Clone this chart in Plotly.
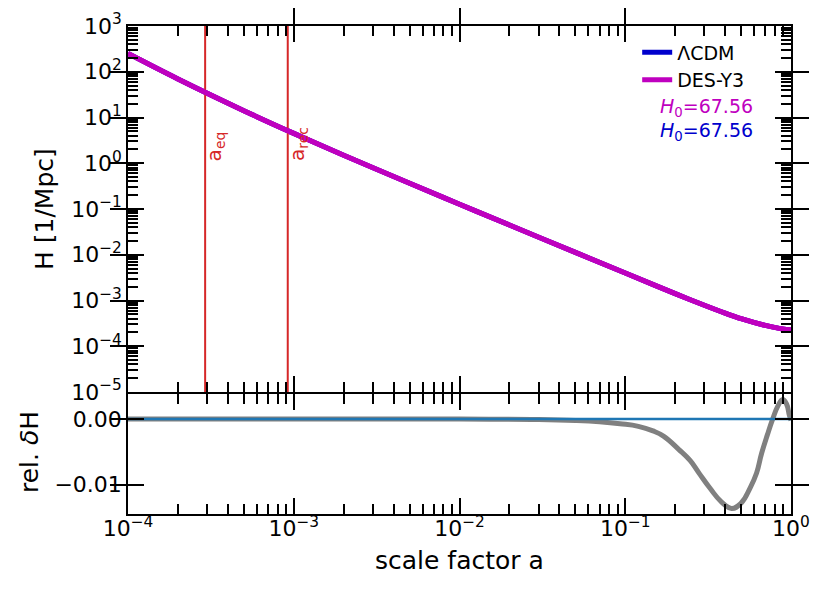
import numpy as np
import plotly.graph_objects as go

# ---- data ----
a_H = [1e-4, 2e-4, 5e-4, 1e-3, 2e-3, 5e-3, 1e-2, 2e-2, 5e-2, 0.1, 0.15, 0.2, 0.3, 0.4, 0.5, 0.7, 0.85, 1.0]
H_lcdm = [250, 69.5, 14.1, 4.5, 1.50, 0.365, 0.127, 0.0447, 0.01125, 3.98e-3, 2.17e-3, 1.415e-3,
          7.86e-4, 5.3e-4, 4.01e-4, 2.85e-4, 2.46e-4, 2.25e-4]
H_des = [250, 69.5, 14.1, 4.5, 1.50, 0.365, 0.127, 0.0447, 0.01125, 3.98e-3, 2.17e-3, 1.415e-3,
         7.86e-4, 5.3e-4, 4.01e-4, 2.85e-4, 2.46e-4, 2.25e-4]

a_rel = [1e-4, 1e-3, 1e-2, 0.03, 0.05, 0.07, 0.093, 0.12, 0.147, 0.17, 0.21, 0.246, 0.28, 0.324,
         0.38, 0.438, 0.50, 0.566, 0.62, 0.665, 0.72, 0.775, 0.83, 0.891, 0.94, 0.977, 1.0]
dH_rel = [0.0, 0.0, 0.0, -0.00005, -0.0002, -0.0004, -0.0007, -0.0011, -0.0018, -0.0026, -0.0046, -0.0063,
          -0.0083, -0.0105, -0.0126, -0.0136, -0.0128, -0.0105, -0.0082, -0.0052, -0.0024, 0.0, 0.0019,
          0.0030, 0.0023, 0.0006, -0.0002]
zero_ref = [0.0, 0.0]
a_ref = [1e-4, 1.0]

a_eq = 2.92e-4
a_rec = 9.2e-4

H0_des = 67.56
H0_lcdm = 67.56

x_ticks = [1e-4, 1e-3, 1e-2, 1e-1, 1e0]
x_ticktext = ["10<sup>\u22124</sup>", "10<sup>\u22123</sup>", "10<sup>\u22122</sup>", "10<sup>\u22121</sup>", "10<sup>0</sup>"]
y_ticks = [10.0 ** k for k in range(-5, 4)]
y_ticktext = ["10<sup>" + (("\u2212" + str(-k)) if k < 0 else str(k)) + "</sup>" for k in range(-5, 4)]
rel_ticks = [0.0, -0.01]
rel_ticktext = ["0.00", "\u22120.01"]

x_minor = [m * 10.0 ** e for e in range(-4, 0) for m in range(2, 10)]
y_minor = [m * 10.0 ** e for e in range(-5, 3) for m in range(2, 10)]

FONT = "DejaVu Sans"
MAGENTA = "#bf00bf"
BLUE = "#0000cd"
RED = "#d62728"

fig = go.Figure()

# top panel (x2, y2)
fig.add_trace(go.Scatter(x=a_H, y=H_lcdm, mode="lines", line=dict(color=BLUE, width=5, shape="spline"),
                         name="\u039bCDM", xaxis="x2", yaxis="y2"))
fig.add_trace(go.Scatter(x=a_H, y=H_des, mode="lines", line=dict(color=MAGENTA, width=5, shape="spline"),
                         name="DES-Y3", xaxis="x2", yaxis="y2"))
for av in (a_eq, a_rec):
    fig.add_trace(go.Scatter(x=[av, av], y=[1e-5, 1e3], mode="lines", line=dict(color=RED, width=2),
                             showlegend=False, xaxis="x2", yaxis="y2"))
fig.add_trace(go.Scatter(x=a_H, y=H_des, mode="lines", line=dict(color=MAGENTA, width=5, shape="spline"),
                         showlegend=False, xaxis="x2", yaxis="y2"))

# bottom panel (x, y)
fig.add_trace(go.Scatter(x=a_rel, y=dH_rel, mode="lines",
                         line=dict(color="gray", width=5, shape="spline", smoothing=1.3),
                         showlegend=False, xaxis="x", yaxis="y"))
fig.add_trace(go.Scatter(x=a_ref, y=zero_ref, mode="lines", line=dict(color="#1f77b4", width=2.5),
                         showlegend=False, xaxis="x", yaxis="y"))

# empty helper traces so the minor-tick overlay axes exist
fig.add_trace(go.Scatter(x=[], y=[], showlegend=False, xaxis="x3", yaxis="y"))
fig.add_trace(go.Scatter(x=[], y=[], showlegend=False, xaxis="x4", yaxis="y2"))
fig.add_trace(go.Scatter(x=[], y=[], showlegend=False, xaxis="x2", yaxis="y3"))

axis_common = dict(showline=True, linecolor="black", linewidth=1.5, mirror="allticks",
                   ticks="inside", ticklen=16, tickwidth=1.5, tickcolor="black",
                   showgrid=False, zeroline=False, automargin=False,
                   tickfont=dict(family=FONT, size=22, color="black"))
minor_axis = dict(showline=False, mirror="allticks", ticks="inside", ticklen=10, tickwidth=1.5,
                  tickcolor="black", showgrid=False, zeroline=False, automargin=False,
                  showticklabels=False, tickmode="array")

BOT_TOP = 0.25 - 1.5 / 488

fig.update_layout(
    width=830, height=593,
    margin=dict(l=128, r=39, t=26, b=79),
    paper_bgcolor="white", plot_bgcolor="white",
    font=dict(family=FONT, color="black"),
    showlegend=True,
    legend=dict(x=0.768, y=0.985, xanchor="left", yanchor="top", bgcolor="rgba(0,0,0,0)",
                font=dict(family=FONT, size=19, color="black"), tracegroupgap=0),
    xaxis=dict(type="log", range=[-4, 0], domain=[0, 1], anchor="y",
               tickmode="array", tickvals=x_ticks, ticktext=x_ticktext, ticklabelstandoff=-6,
               **axis_common),
    yaxis=dict(range=[-0.01445, 0.0039], domain=[0, BOT_TOP], anchor="x",
               tickmode="array", tickvals=rel_ticks, ticktext=rel_ticktext,
               **axis_common),
    xaxis2=dict(type="log", range=[-4, 0], domain=[0, 1], anchor="y2",
                showticklabels=False, tickmode="array", tickvals=x_ticks,
                **axis_common),
    yaxis2=dict(type="log", range=[-5, 3], domain=[0.25, 1], anchor="x2",
                tickmode="array", tickvals=y_ticks, ticktext=y_ticktext,
                **axis_common),
    xaxis3=dict(type="log", range=[-4, 0], overlaying="x", anchor="y", side="bottom",
                tickvals=x_minor, **minor_axis),
    xaxis4=dict(type="log", range=[-4, 0], overlaying="x2", anchor="y2", side="bottom",
                tickvals=x_minor, **minor_axis),
    yaxis3=dict(type="log", range=[-5, 3], overlaying="y2", anchor="x2", side="left",
                tickvals=y_minor, **minor_axis),
)

ann = []
ann.append(dict(text="a<sub>eq</sub>", xref="x2", yref="y2", x=np.log10(a_eq), y=0,
                xanchor="left", yanchor="bottom", textangle=-90, showarrow=False, xshift=-5,
                font=dict(family=FONT, size=20, color=RED)))
ann.append(dict(text="a<sub>rec</sub>", xref="x2", yref="y2", x=np.log10(a_rec), y=0,
                xanchor="left", yanchor="bottom", textangle=-90, showarrow=False, xshift=-5,
                font=dict(family=FONT, size=20, color=RED)))
ann.append(dict(text="<i>H</i><sub>0</sub>=%.2f" % H0_des, xref="paper", yref="paper", x=0.872, y=0.834,
                xanchor="center", yanchor="middle", showarrow=False,
                font=dict(family=FONT, size=19, color=MAGENTA)))
ann.append(dict(text="<i>H</i><sub>0</sub>=%.2f" % H0_lcdm, xref="paper", yref="paper", x=0.872, y=0.783,
                xanchor="center", yanchor="middle", showarrow=False,
                font=dict(family=FONT, size=19, color=BLUE)))
ann.append(dict(text="H [1/Mpc]", xref="paper", yref="paper", x=-0.1267, y=0.625,
                xanchor="center", yanchor="middle", textangle=-90, showarrow=False,
                font=dict(family=FONT, size=25, color="black")))
ann.append(dict(text="rel. <i>\u03b4</i>H", xref="paper", yref="paper", x=-0.1493, y=0.127,
                xanchor="center", yanchor="middle", textangle=-90, showarrow=False,
                font=dict(family=FONT, size=25, color="black")))
ann.append(dict(text="scale factor a", xref="paper", yref="paper", x=0.5, y=-0.0963,
                xanchor="center", yanchor="middle", showarrow=False,
                font=dict(family=FONT, size=25, color="black")))
fig.update_layout(annotations=ann)

fig.write_html("out.html", config={"displayModeBar": False},
               post_script="document.body.style.margin='0px';")
